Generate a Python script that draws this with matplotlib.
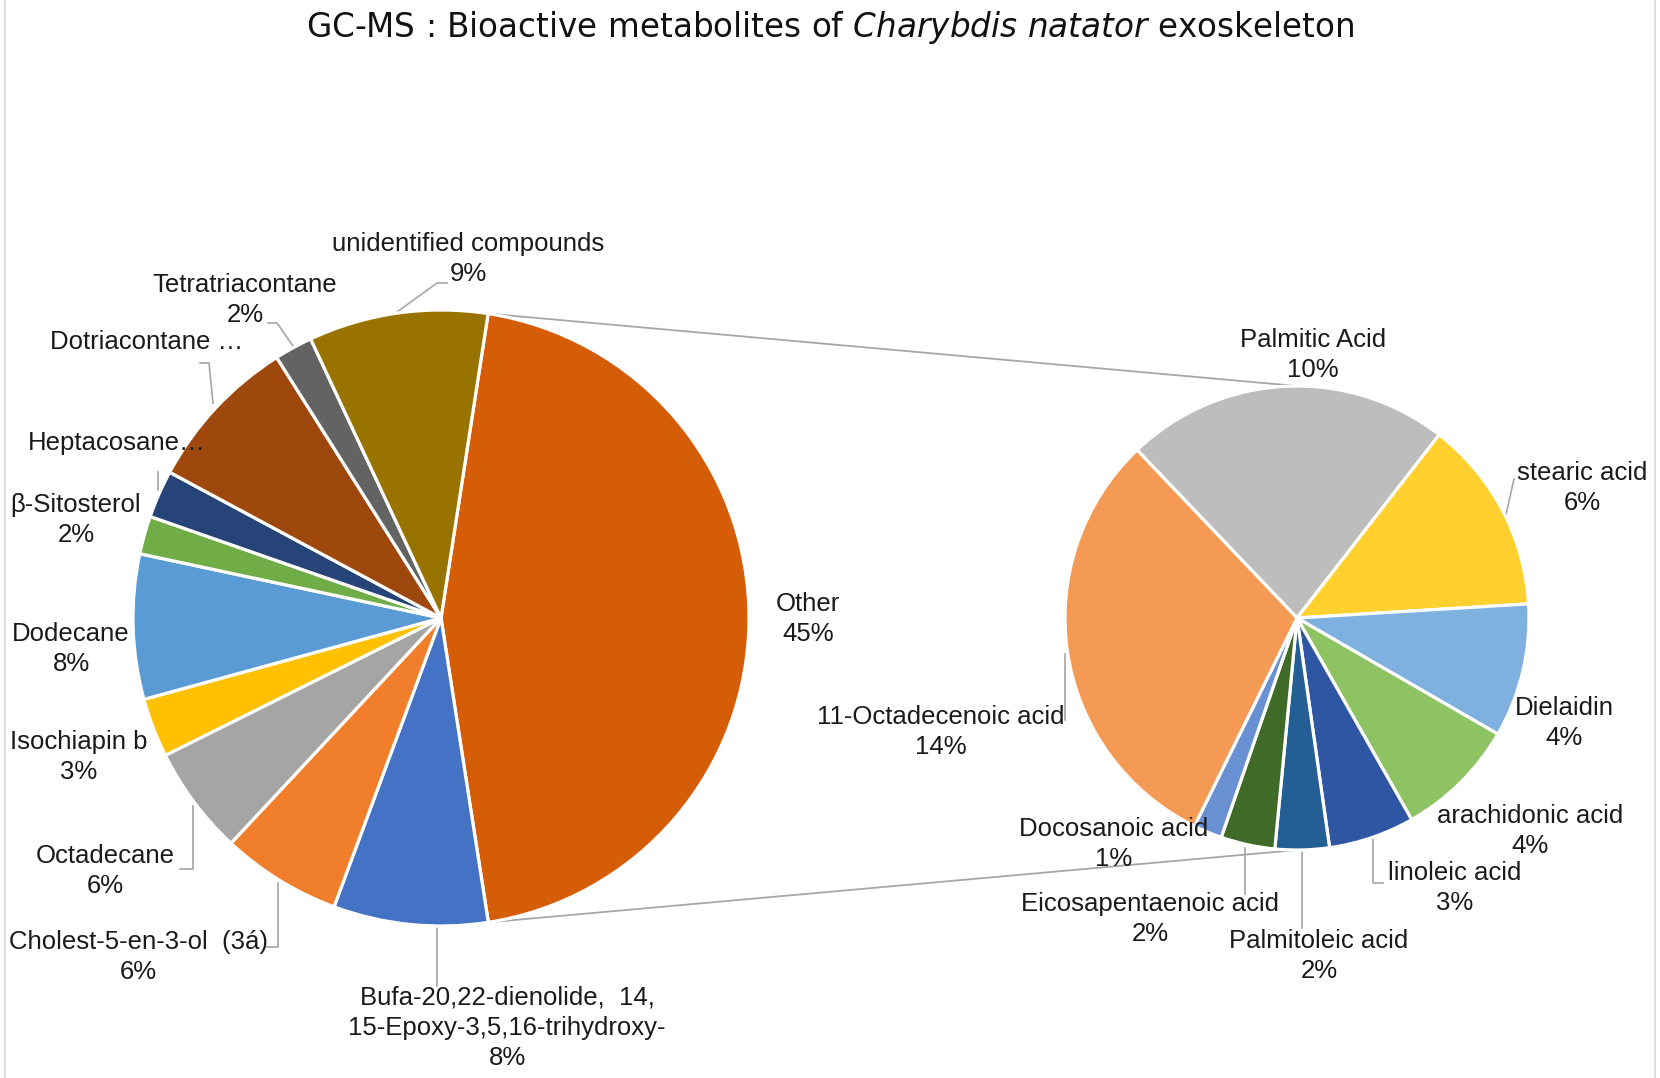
import numpy as np
import matplotlib.pyplot as plt

# secondary pie: fatty acids (percent of total)
acid_names = ["Palmitic Acid", "stearic acid", "Dielaidin", "arachidonic acid",
              "linoleic acid", "Palmitoleic acid", "Eicosapentaenoic acid",
              "Docosanoic acid", "11-Octadecenoic acid"]
acid_values = [10.2, 6.1, 4.2, 3.8, 2.7, 1.7, 1.7, 0.9, 13.8]
acid_colors = ["#BDBDBD", "#FFD02E", "#7EB0E0", "#8DC363", "#2F56A3",
               "#235F94", "#3F6A27", "#6A90D4", "#F59A55"]

# main pie (Other = sum of the secondary pie)
main_names = ["Other", "Bufa-20,22-dienolide,  14,\n15-Epoxy-3,5,16-trihydroxy-",
              "Cholest-5-en-3-ol  (3á)", "Octadecane", "Isochiapin b", "Dodecane",
              "β-Sitosterol", "Heptacosane", "Dotriacontane", "Tetratriacontane",
              "unidentified compounds"]
main_values = [sum(acid_values), 8.1, 6.3, 5.7, 3.1, 7.6, 2.0, 2.5, 8.2, 2.0, 9.4]
main_colors = ["#D65D07", "#4472C4", "#F07E2B", "#A5A5A5", "#FFC000", "#5B9BD5",
               "#70AD47", "#264478", "#9E480E", "#636363", "#997300"]
# labels that Excel truncated
truncated = {"Heptacosane": "Heptacosane…", "Dotriacontane": "Dotriacontane …"}

W, H = 1660, 1078
def Y(y):
    return H - y

main_c, main_r = (441, 618), 308
sec_c, sec_r = (1297, 618), 232
main_start = 81.2
sec_start = 133.6

# label centres (pixels, y from top)
main_pos = [(808, 619), (507, 1028), (138, 957), (105, 871), (79, 757), (71, 649),
            (76, 520), (117, 443), (147, 342), (245, 300), (468, 259)]
sec_pos = [(1313, 355), (1582, 488), (1564, 723), (1530, 831), (1455, 888),
           (1319, 956), (1150, 919), (1114, 844), (941, 732)]

# leader lines (pixels, y from top)
leaders = [
    [(397, 312), (437, 283), (447, 283)],
    [(293, 346), (277, 323), (268, 323)],
    [(213, 403), (209, 363), (200, 363)],
    [(158, 490), (158, 472)],
    [(193, 806), (193, 869), (180, 869)],
    [(278, 883), (278, 947), (267, 947)],
    [(437, 924), (437, 986)],
    [(1505, 519), (1514, 479)],
    [(1065, 654), (1065, 720)],
    [(1245, 848), (1245, 894)],
    [(1302, 851), (1302, 928)],
    [(1373, 837), (1373, 883), (1383, 883)],
]

fig = plt.figure(figsize=(W / 100, H / 100), dpi=100)
ax = fig.add_axes([0, 0, 1, 1])

wedge_style = dict(edgecolor="white", linewidth=2.3)
ax.pie(main_values, colors=main_colors, startangle=main_start, counterclock=False,
       center=(main_c[0], Y(main_c[1])), radius=main_r, wedgeprops=wedge_style)
ax.pie(acid_values, colors=acid_colors, startangle=sec_start, counterclock=False,
       center=(sec_c[0], Y(sec_c[1])), radius=sec_r, wedgeprops=wedge_style)

# connector lines from the "Other" slice to the secondary pie
total = sum(main_values)
a0 = np.deg2rad(main_start)
a1 = np.deg2rad(main_start - 360 * main_values[0] / total)
for a, sy in [(a0, sec_r), (a1, -sec_r)]:
    x0 = main_c[0] + main_r * np.cos(a)
    y0 = Y(main_c[1]) + main_r * np.sin(a)
    ax.plot([x0, sec_c[0]], [y0, Y(sec_c[1]) + sy], color="#A6A6A6", lw=1.3, zorder=0)

for pts in leaders:
    xs, ys = zip(*pts)
    ax.plot(xs, [Y(v) for v in ys], color="#A6A6A6", lw=1.2, zorder=0)

lab_font = dict(family="Liberation Sans", fontsize=18.5, color="#1a1a1a",
                ha="center", va="center", linespacing=1.32)
for name, val, (px, py) in zip(main_names, main_values, main_pos):
    txt = truncated.get(name, f"{name}\n{round(val):.0f}%")
    ax.text(px, Y(py), txt, **lab_font)
for name, val, (px, py) in zip(acid_names, acid_values, sec_pos):
    ax.text(px, Y(py), f"{name}\n{round(val):.0f}%", **lab_font)

# thin chart frame
for x in (5, W - 5):
    ax.plot([x, x], [0, H], color="#D9D9D9", lw=1.2)

ax.text(W / 2, Y(27), r"GC-MS : Bioactive metabolites of $\it{Charybdis\ natator}$ exoskeleton",
        fontsize=23.5, ha="center", va="center", color="#111111")

ax.set_xlim(0, W)
ax.set_ylim(0, H)
ax.set_aspect("equal")
ax.axis("off")

fig.savefig("out.png", dpi=100)
